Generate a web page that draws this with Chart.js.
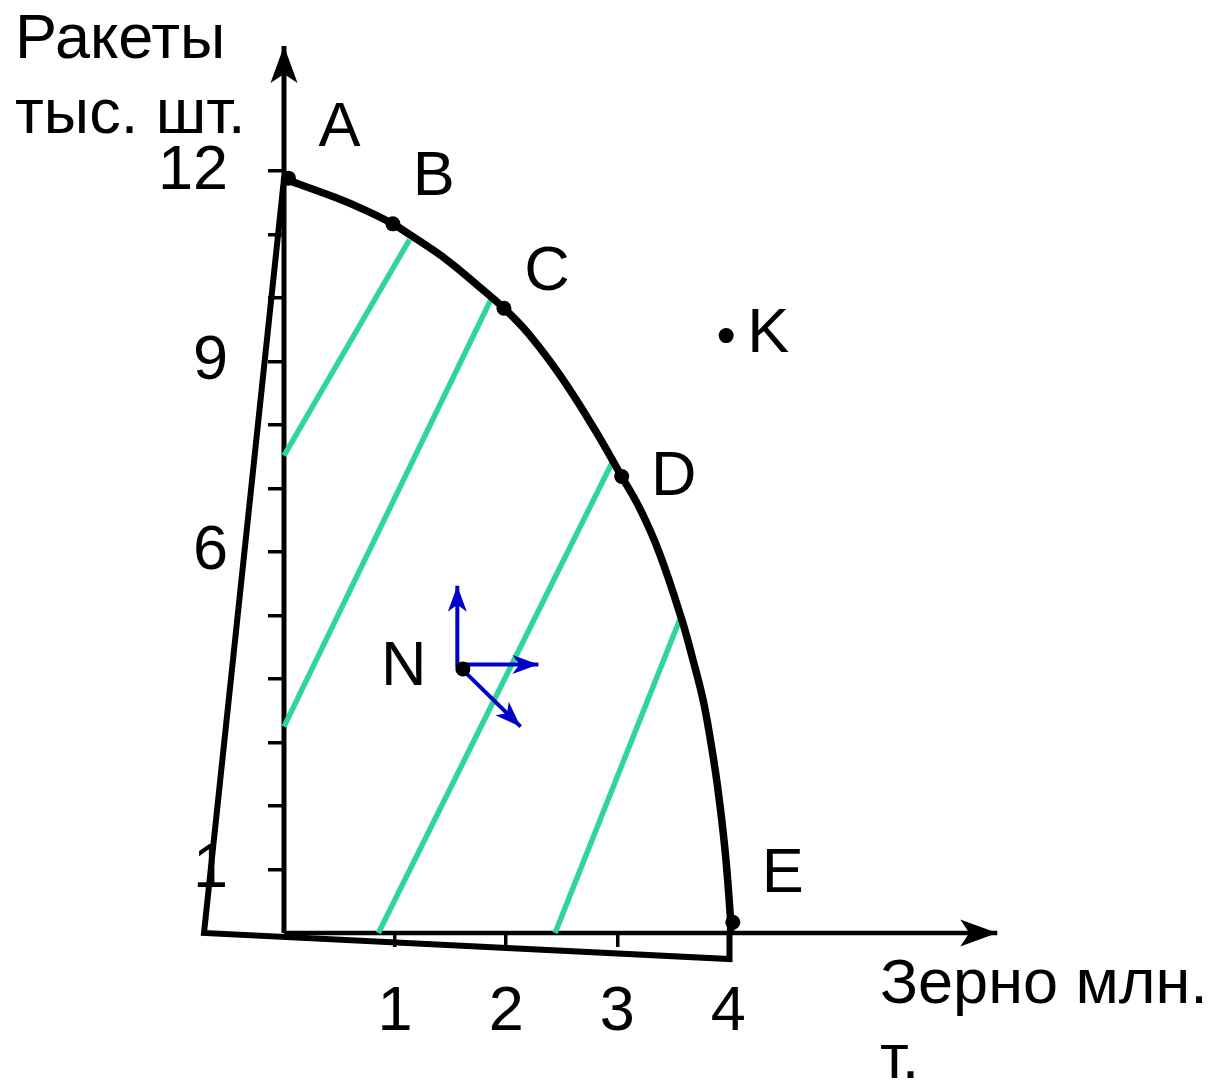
<!DOCTYPE html>
<html>
<head>
<meta charset="utf-8">
<script src="https://cdn.jsdelivr.net/npm/chart.js@4.4.1/dist/chart.umd.min.js"></script>
<style>
  html, body { margin: 0; padding: 0; background: #fff; }
  canvas { display: block; }
</style>
</head>
<body>
<canvas id="ppf" width="1214" height="1084"></canvas>
<script>
// production possibility frontier: grain (mln t) vs rockets (thousand pcs)
const frontierGrain   = [0.03, 0.47, 0.74, 0.98, 1.15, 1.46, 1.75, 1.98, 2.20, 2.49, 2.79, 3.04, 3.21, 3.38, 3.58, 3.68, 3.77, 3.83, 3.90, 3.97, 4.02, 4.02];
const frontierRockets = [11.86, 11.58, 11.38, 11.17, 10.98, 10.61, 10.19, 9.84, 9.44, 8.77, 7.95, 7.19, 6.66, 5.98, 4.94, 4.31, 3.69, 3.13, 2.34, 1.30, 0.20, 0.0];

// outline around the frontier (A -> bottom left -> bottom right -> E)
const outlineGrain   = [0.0, -0.72, 4.01, 4.01];
const outlineRockets = [11.88, 0.0, -0.41, 0.0];

// green parallel lines, [start, end]
const isoGrain   = [[0, 1.13], [0, 1.86], [0.85, 2.97], [2.44, 3.57]];
const isoRockets = [[7.52, 10.92], [3.25, 9.97], [0, 7.47], [0, 4.97]];

const pointNames   = ['A', 'B', 'C', 'D', 'E', 'K', 'N'];
const pointGrain   = [0.04, 0.98, 1.98, 3.04, 4.04, 3.98, 1.61];
const pointRockets = [11.89, 11.17, 9.84, 7.19, 0.17, 9.41, 4.16];

// blue arrows out of N, [start, end]
const arrowGrain   = [[1.56, 1.56], [1.56, 2.29], [1.60, 2.13]];
const arrowRockets = [[4.19, 5.47], [4.23, 4.23], [4.16, 3.25]];

const grainTicks     = [1, 2, 3, 4];
const rocketTicks    = [1, 2, 3, 4, 5, 6, 7, 8, 9, 10, 11, 12];
const rocketLabelled = [1, 6, 9, 12];
const grainAxisEnd   = 6.42;
const rocketAxisEnd  = 13.97;

const xTitle = ['Зерно млн.', 'т.'];
const yTitle = ['Ракеты', 'тыс. шт.'];

// layout
const W = 1214, H = 1084;
const ORIGIN_X = 284, UNIT_X = 112;
const ORIGIN_Y = 933, UNIT_Y = 64;
const FAMILY = '"Liberation Sans", Arial, sans-serif';
const FONT_SIZE = 63;
const GREEN = '#2fd59d';
const BLUE = '#0000c8';

// label offsets from their dot: [dx of centre, dy of baseline]
const labelOffset = {
    A: [51, -32], B: [41, -29], C: [43, -18], D: [52, 18],
    E: [50, -30], K: [42, 16], N: [-59, 16]
};

const zip = (xs, ys) => xs.map((v, i) => ({ x: v, y: ys[i] }));

const datasets = [];

datasets.push({
    label: 'points',
    data: zip(pointGrain, pointRockets),
    showLine: false,
    pointRadius: 7.5,
    pointBackgroundColor: '#000',
    pointBorderWidth: 0,
    order: 0
});

datasets.push({
    label: 'frontier',
    data: zip(frontierGrain, frontierRockets),
    showLine: true,
    borderColor: '#000',
    borderWidth: 7.5,
    tension: 0.4,
    pointRadius: 0,
    order: 1
});

arrowGrain.forEach((g, i) => {
    datasets.push({
        label: 'arrow' + i,
        data: zip(g, arrowRockets[i]),
        showLine: true,
        borderColor: BLUE,
        borderWidth: 4,
        pointRadius: 0,
        arrowHead: { len: 26, half: 9.5, notch: 19 },
        order: 2
    });
});

datasets.push({
    label: 'outline',
    data: zip(outlineGrain, outlineRockets),
    showLine: true,
    borderColor: '#000',
    borderWidth: 6,
    borderJoinStyle: 'miter',
    pointRadius: 0,
    order: 3
});

isoGrain.forEach((g, i) => {
    datasets.push({
        label: 'iso' + i,
        data: zip(g, isoRockets[i]),
        showLine: true,
        borderColor: GREEN,
        borderWidth: 5.5,
        pointRadius: 0,
        order: 4
    });
});

datasets.push({
    label: 'axisX',
    data: [{ x: 0, y: 0 }, { x: grainAxisEnd, y: 0 }],
    showLine: true,
    borderColor: '#000',
    borderWidth: 4.5,
    pointRadius: 0,
    arrowHead: { len: 37, half: 13.5, notch: 28 },
    order: 5
});

datasets.push({
    label: 'axisY',
    data: [{ x: 0, y: 0 }, { x: 0, y: rocketAxisEnd }],
    showLine: true,
    borderColor: '#000',
    borderWidth: 5,
    pointRadius: 0,
    arrowHead: { len: 37, half: 13.5, notch: 28 },
    order: 5
});

// everything left of / below the axes lies outside the chart area
datasets.forEach(ds => { ds.clip = false; });

const drawHead = (ctx, x0, y0, x1, y1, head, color) => {
    const a = Math.atan2(y1 - y0, x1 - x0);
    const dx = Math.cos(a), dy = Math.sin(a);
    ctx.save();
    ctx.fillStyle = color;
    ctx.beginPath();
    ctx.moveTo(x1, y1);
    ctx.lineTo(x1 - head.len * dx - head.half * dy, y1 - head.len * dy + head.half * dx);
    ctx.lineTo(x1 - head.notch * dx, y1 - head.notch * dy);
    ctx.lineTo(x1 - head.len * dx + head.half * dy, y1 - head.len * dy - head.half * dx);
    ctx.closePath();
    ctx.fill();
    ctx.restore();
};

const annotate = {
    id: 'annotate',
    afterDatasetsDraw(chart) {
        const ctx = chart.ctx;
        chart.data.datasets.forEach((ds, i) => {
            if (!ds.arrowHead) return;
            const pts = chart.getDatasetMeta(i).data;
            const p0 = pts[pts.length - 2], p1 = pts[pts.length - 1];
            drawHead(ctx, p0.x, p0.y, p1.x, p1.y, ds.arrowHead, ds.borderColor);
        });

        ctx.save();
        ctx.font = FONT_SIZE + 'px ' + FAMILY;
        ctx.fillStyle = '#000';
        ctx.textBaseline = 'alphabetic';
        ctx.textAlign = 'center';
        const pts = chart.getDatasetMeta(0).data;
        pointNames.forEach((name, i) => {
            const off = labelOffset[name];
            ctx.fillText(name, pts[i].x + off[0], pts[i].y + off[1]);
        });

        ctx.textAlign = 'left';
        ctx.fillText(yTitle[0], 15, 58);
        ctx.fillText(yTitle[1], 15, 133);
        ctx.fillText(xTitle[0], 880, 1003);
        ctx.fillText(xTitle[1], 880, 1078);
        ctx.restore();
    }
};

const tickFont = { family: FAMILY, size: FONT_SIZE, lineHeight: 1 };

new Chart(document.getElementById('ppf'), {
    type: 'scatter',
    data: { datasets },
    options: {
        responsive: false,
        animation: false,
        events: [],
        layout: { padding: 0 },
        plugins: {
            legend: { display: false },
            tooltip: { enabled: false }
        },
        scales: {
            x: {
                type: 'linear',
                min: 0,
                max: (W - ORIGIN_X) / UNIT_X,
                position: 'bottom',
                border: { display: false },
                grid: {
                    drawOnChartArea: false,
                    drawTicks: true,
                    tickLength: 14,
                    lineWidth: 3.5,
                    color: '#000'
                },
                ticks: {
                    color: '#000',
                    font: tickFont,
                    padding: 34,
                    maxRotation: 0,
                    autoSkip: false
                },
                afterBuildTicks: (scale) => {
                    scale.ticks = grainTicks.map(v => ({ value: v }));
                },
                afterFit: (scale) => {
                    scale.height = H - ORIGIN_Y;
                    scale.paddingLeft = 0;
                    scale.paddingRight = 0;
                }
            },
            y: {
                type: 'linear',
                min: 0,
                max: ORIGIN_Y / UNIT_Y,
                position: 'left',
                border: { display: false },
                grid: {
                    drawOnChartArea: false,
                    drawTicks: true,
                    tickLength: 16,
                    lineWidth: 3.5,
                    color: '#000'
                },
                ticks: {
                    color: '#000',
                    font: tickFont,
                    padding: 40,
                    autoSkip: false,
                    callback: (value) => rocketLabelled.includes(value) ? String(value) : ''
                },
                afterBuildTicks: (scale) => {
                    scale.ticks = rocketTicks.map(v => ({ value: v }));
                },
                afterFit: (scale) => {
                    scale.width = ORIGIN_X;
                    scale.paddingTop = 0;
                    scale.paddingBottom = 0;
                }
            }
        }
    },
    plugins: [annotate]
});
</script>
</body>
</html>
